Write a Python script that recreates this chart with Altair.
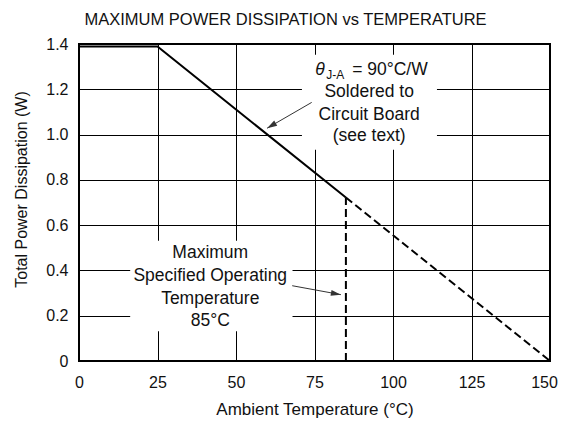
import altair as alt
import pandas as pd

# ---- data ----
curve_temp = [0, 25, 85]
curve_power = [1.389, 1.389, 0.722]
derate_temp = [85, 150]
derate_power = [0.722, 0.0]
limit_temp = [85, 85]
limit_power = [0.0, 0.722]

x_ticks = [0, 25, 50, 75, 100, 125, 150]
y_ticks = [0, 0.2, 0.4, 0.6, 0.8, 1.0, 1.2, 1.4]

# white label backgrounds (data units)
box_x1 = [71.0, 16.3]
box_x2 = [114.0, 68.0]
box_y1 = [0.933, 0.131]
box_y2 = [1.352, 0.531]

note1_lines = ["Soldered to", "Circuit Board", "(see text)"]
note1_y = [1.166, 1.066, 0.970]
note1_x = 92.4
theta_y = 1.264

note2_lines = ["Maximum", "Specified Operating", "Temperature", "85°C"]
note2_y = [0.457, 0.355, 0.253, 0.153]
note2_x = 41.8

arrow1_x = [74.1, 59.9]
arrow1_y = [1.142, 1.028]
arrow1_angle = 149.6
arrow2_x = [67.9, 83.4]
arrow2_y = [0.3325, 0.293]
arrow2_angle = 10.5

FONT = "Liberation Sans"
INK = "#111111"

xs = alt.Scale(domain=[0, 150], nice=False, zero=False)
ys = alt.Scale(domain=[0, 1.4], nice=False, zero=False)

solid = pd.DataFrame({"t": curve_temp, "p": curve_power})
dashed = pd.DataFrame({"t": derate_temp, "p": derate_power})
limit = pd.DataFrame({"t": limit_temp, "p": limit_power})
boxes = pd.DataFrame({"x1": box_x1, "x2": box_x2, "y1": box_y1, "y2": box_y2})
a1 = pd.DataFrame({"t": arrow1_x, "p": arrow1_y})
a2 = pd.DataFrame({"t": arrow2_x, "p": arrow2_y})
n1 = pd.DataFrame({"txt": note1_lines, "t": [note1_x] * 3, "p": note1_y})
n2 = pd.DataFrame({"txt": note2_lines, "t": [note2_x] * 4, "p": note2_y})
th = pd.DataFrame({"t": [note1_x], "p": [theta_y]})

base_x = alt.X("t:Q", scale=xs,
               axis=alt.Axis(values=x_ticks, title="Ambient Temperature (°C)",
                             labelPadding=13, titlePadding=11, titleFontSize=17, format="d",
                             labelOffset=alt.condition("datum.value == 150",
                                                       alt.value(-6), alt.value(0))))
base_y = alt.Y("p:Q", scale=ys,
               axis=alt.Axis(values=y_ticks, title="Total Power Dissipation (W)",
                             labelPadding=11, titlePadding=16, titleY=145,
                             labelExpr="datum.value == 0 ? '0' : format(datum.value, '.1f')"))

line_solid = alt.Chart(solid).mark_line(color="black", strokeWidth=2).encode(x=base_x, y=base_y)
line_dash = alt.Chart(dashed).mark_line(color="black", strokeWidth=2, strokeDash=[8, 4]).encode(
    x="t:Q", y="p:Q")
line_limit = alt.Chart(limit).mark_line(color="black", strokeWidth=2, strokeDash=[8, 4]).encode(
    x="t:Q", y="p:Q")

bg = alt.Chart(boxes).mark_rect(color="white").encode(
    x="x1:Q", x2="x2:Q", y="y1:Q", y2="y2:Q")

shaft1 = alt.Chart(a1).mark_line(color="#333333", strokeWidth=1).encode(x="t:Q", y="p:Q")
shaft2 = alt.Chart(a2).mark_line(color="#333333", strokeWidth=1).encode(x="t:Q", y="p:Q")
head_shape = "M0,0L-1,-0.3L-1,0.3Z"
head1 = alt.Chart(a1.iloc[[1]]).mark_point(shape=head_shape, size=400, filled=True, opacity=1,
                                          color="#333333", angle=arrow1_angle).encode(x="t:Q", y="p:Q")
head2 = alt.Chart(a2.iloc[[1]]).mark_point(shape=head_shape, size=400, filled=True, opacity=1,
                                          color="#333333", angle=arrow2_angle).encode(x="t:Q", y="p:Q")

txt_kw = dict(font=FONT, fontSize=17.5, color=INK, baseline="alphabetic", align="center")
t1 = alt.Chart(n1).mark_text(**txt_kw).encode(x="t:Q", y="p:Q", text="txt:N")
t2 = alt.Chart(n2).mark_text(**txt_kw).encode(x="t:Q", y="p:Q", text="txt:N")
theta = alt.Chart(th).mark_text(font=FONT, fontSize=17.5, fontStyle="italic", color=INK,
                                baseline="alphabetic", align="left", dx=-54).encode(
    x="t:Q", y="p:Q", text=alt.value("θ"))
sub = alt.Chart(th).mark_text(font=FONT, fontSize=12, color=INK,
                              baseline="alphabetic", align="left", dx=-43, dy=4).encode(
    x="t:Q", y="p:Q", text=alt.value("J-A"))
eq = alt.Chart(th).mark_text(font=FONT, fontSize=17.5, color=INK,
                             baseline="alphabetic", align="left", dx=-17).encode(
    x="t:Q", y="p:Q", text=alt.value("= 90°C/W"))

chart = alt.layer(
    line_solid, bg, line_dash, line_limit, shaft1, shaft2, head1, head2, t1, t2, theta, sub, eq
).properties(
    width=471, height=317,
    title=alt.TitleParams("MAXIMUM POWER DISSIPATION vs TEMPERATURE", anchor="middle",
                          frame="bounds", fontSize=16.5, fontWeight="normal", font=FONT,
                          color=INK, offset=8),
    autosize=alt.AutoSizeParams(type="none"),
    padding={"left": 71, "top": 36, "right": 8, "bottom": 57},
).configure_view(
    stroke="black", strokeWidth=2
).configure_axis(
    grid=True, gridColor="black", gridWidth=1, gridOpacity=1,
    domain=False, ticks=False,
    labelFont=FONT, labelFontSize=16, labelColor=INK,
    titleFont=FONT, titleFontSize=16, titleFontWeight="normal", titleColor=INK,
    labelFlush=False, labelOverlap=False,
)

chart.save("out.html", embed_options={"renderer": "svg", "actions": False})
